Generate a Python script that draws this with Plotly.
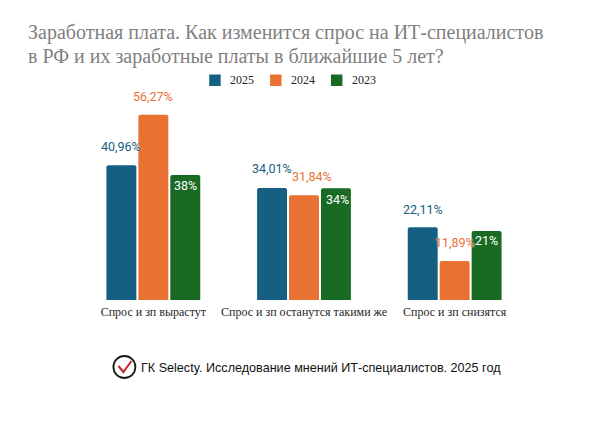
import plotly.graph_objects as go

categories = ["Спрос и зп вырастут", "Спрос и зп останутся такими же", "Спрос и зп снизятся"]
years = ["2025", "2024", "2023"]
values_2025 = [40.96, 34.01, 22.11]
values_2024 = [56.27, 31.84, 11.89]
values_2023 = [38, 34, 21]
labels_2025 = ["40,96%", "34,01%", "22,11%"]
labels_2024 = ["56,27%", "31,84%", "11,89%"]
labels_2023 = ["38%", "34%", "21%"]
title_lines = ["Заработная плата. Как изменится спрос на ИТ-специалистов", "в РФ и их заработные платы в ближайшие 5 лет?"]
footer_text = "ГК Selecty. Исследование мнений ИТ-специалистов. 2025 год"

colors = ["#156082", "#E97132", "#196B24"]
W, H = 613, 425
L, R, T, B = 77.5, 530.5, 40, 300
PX_PER_UNIT = 3.29

series = [values_2025, values_2024, values_2023]
labels = [labels_2025, labels_2024, labels_2023]
# label pixel shifts relative to each group's centre and bar top
shifts = [
    [(-32, 19), (0, 18), (32, -11)],
    [(-32, 20), (8, 19), (33, -11)],
    [(-32, 18), (0, 18), (32, -10)],
]
label_colors = ["#156082", "#E97132", "#FFFFFF"]
label_shadows = ["0 0 2px white", "0 0 2px white", "none"]
legend_left = [209, 270, 331]

def xd(x): return (x - L) / (R - L)
def yd(y): return (B - y) / (B - T)

fig = go.Figure()
for name, vals, col in zip(years, series, colors):
    fig.add_trace(go.Bar(name=name, x=categories, y=vals, showlegend=False,
                         marker=dict(color=col, line_width=0, cornerradius=2)))

for i, cat in enumerate(categories):
    for s in range(3):
        dx, dy = shifts[i][s]
        fig.add_annotation(x=cat, y=series[s][i], xref="x", yref="y", text=labels[s][i], showarrow=False,
                           xshift=dx, yshift=dy, xanchor="center", yanchor="middle",
                           font=dict(family="Roboto", size=12.5, color=label_colors[s], shadow=label_shadows[s]))

for name, col, left in zip(years, colors, legend_left):
    fig.add_shape(type="rect", xref="paper", yref="paper", x0=xd(left), x1=xd(left + 11.5), y0=yd(74.5), y1=yd(86),
                  fillcolor=col, line_width=0)
    fig.add_annotation(xref="paper", yref="paper", x=xd(left + 19), y=yd(80), text=name, showarrow=False,
                       xanchor="left", yanchor="middle",
                       font=dict(family="Liberation Serif", size=12, color="#262626"))

for line, y in zip(title_lines, [32, 56]):
    fig.add_annotation(xref="paper", yref="paper", x=xd(25), y=yd(y), text=line, showarrow=False,
                       xanchor="left", yanchor="middle", font=dict(family="Liberation Serif", size=20, color="#7F7F7F"))
fig.add_annotation(xref="paper", yref="paper", x=xd(139), y=yd(368), text=footer_text,
                   showarrow=False, xanchor="left", yanchor="middle",
                   font=dict(family="Liberation Sans", size=12.6, color="#111111"))

fig.add_shape(type="circle", xref="paper", yref="paper", x0=xd(113), x1=xd(135), y0=yd(356), y1=yd(378),
              line=dict(color="#1A1A1A", width=1.8))
fig.add_shape(type="path", xref="paper", yref="paper",
              path=f"M {xd(118)} {yd(366)} L {xd(123)} {yd(372)} L {xd(131)} {yd(361)}",
              line=dict(color="#C8222A", width=2))

fig.update_layout(
    width=W, height=H, barmode="group", bargap=0.364, bargroupgap=0.0625,
    paper_bgcolor="white", plot_bgcolor="white",
    margin=dict(l=L, r=W - R, t=T, b=H - B, pad=0),
    showlegend=False,
    xaxis=dict(showline=False, showgrid=False, ticks="", tickfont=dict(family="Liberation Serif", size=12, color="#262626"), ticklabelstandoff=3),
    yaxis=dict(range=[0, (B - T) / PX_PER_UNIT], visible=False),
)
fig.write_html("out.html", config=dict(displayModeBar=False),
               post_script="document.body.style.margin='0';document.body.style.overflow='hidden';")
